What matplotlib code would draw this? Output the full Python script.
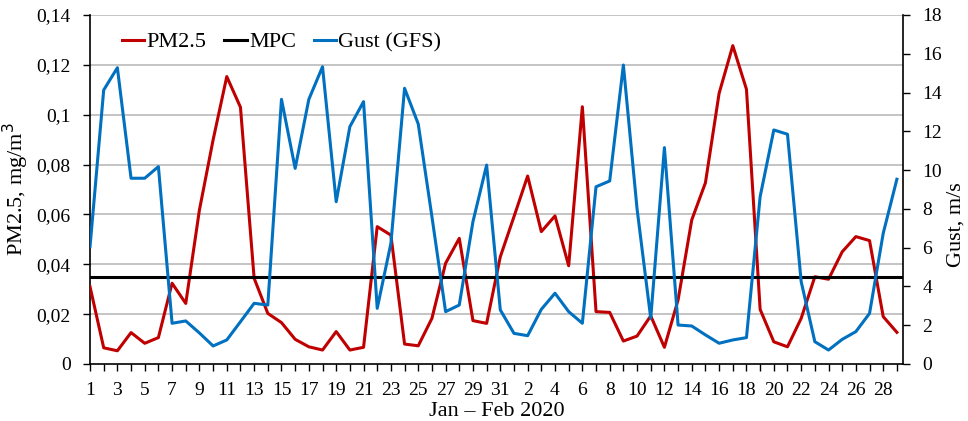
import matplotlib
matplotlib.use("Agg")
import matplotlib.pyplot as plt
from matplotlib.ticker import FixedLocator, FuncFormatter

plt.rcParams['font.family'] = ['Liberation Serif', 'DejaVu Serif']

days = list(range(1, 32)) + list(range(1, 30))

pm25 = [0.031, 0.0065, 0.0053, 0.0126, 0.0083, 0.0106, 0.0324, 0.0243, 0.0618, 0.0899,
        0.1153, 0.103, 0.0344, 0.0203, 0.0166, 0.0099, 0.0069, 0.0056, 0.0130, 0.0056,
        0.0067, 0.0551, 0.0517, 0.0080, 0.0073, 0.0183, 0.0404, 0.0504, 0.0174, 0.0163,
        0.0430, 0.0591, 0.0754, 0.0531, 0.0594, 0.0394, 0.1032, 0.0210, 0.0207, 0.0092,
        0.0112, 0.0193, 0.0067, 0.0257, 0.0578, 0.0727, 0.1086, 0.1277, 0.1102, 0.0219,
        0.0089, 0.0069, 0.0183, 0.0350, 0.0340, 0.0450, 0.0511, 0.0495, 0.0190, 0.0127]

gust = [6.05, 14.13, 15.28, 9.58, 9.58, 10.18, 2.10, 2.22, 1.6, 0.93,
        1.24, 2.18, 3.13, 3.04, 13.65, 10.09, 13.65, 15.33, 8.37, 12.24,
        13.53, 2.87, 6.22, 14.22, 12.38, 7.6, 2.70, 3.04, 7.34, 10.26,
        2.79, 1.58, 1.46, 2.82, 3.65, 2.70, 2.10, 9.14, 9.44, 15.42,
        8.0, 2.36, 11.16, 2.01, 1.96, 1.50, 1.07, 1.24, 1.36, 8.63,
        12.07, 11.85, 4.25, 1.15, 0.72, 1.27, 1.67, 2.61, 6.74, 9.53]

mpc = 0.035

left_ticks = [0, 0.02, 0.04, 0.06, 0.08, 0.1, 0.12, 0.14]
right_ticks = [0, 2, 4, 6, 8, 10, 12, 14, 16, 18]

RED = '#C00000'
BLUE = '#0070C0'
FS = 14
LFS = 16

fig = plt.figure(figsize=(9.68, 4.21), dpi=100)
ax = fig.add_axes([0.093, 0.1354, 0.8399, 0.829])
ax2 = ax.twinx()

x = list(range(len(days)))

for t in left_ticks[1:]:
    ax.axhline(t, color='#BFBFBF', lw=1.3, zorder=0)

l1, = ax.plot(x, pm25, color=RED, lw=2.2, label='PM2.5', zorder=3)
l2 = ax.axhline(mpc, color='black', lw=2.2, label='MPC', zorder=3)
l3, = ax2.plot(x, gust, color=BLUE, lw=2.2, label='Gust (GFS)', zorder=3)

ax.set_xlim(0, 59.45)
ax.set_ylim(0, 0.14)
ax2.set_ylim(0, 18)

ax.xaxis.set_major_locator(FixedLocator(x[::2]))
ax.xaxis.set_minor_locator(FixedLocator(x[1::2]))
ax.set_xticklabels([str(days[i]) for i in x[::2]])
ax.tick_params(axis='x', which='both', direction='out', length=5, width=1, labelsize=FS, pad=8)

ax.yaxis.set_major_locator(FixedLocator(left_ticks))
ax.yaxis.set_major_formatter(FuncFormatter(lambda v, p: ('%g' % round(v, 2)).replace('.', ',')))
ax.tick_params(axis='y', direction='out', length=5, width=1, labelsize=FS, pad=9)
ax2.yaxis.set_major_locator(FixedLocator(right_ticks))
ax2.tick_params(axis='y', direction='out', length=5, width=1, labelsize=FS, pad=9)

for a in (ax, ax2):
    a.spines['top'].set_visible(False)
    for s in ('left', 'right', 'bottom'):
        a.spines[s].set_linewidth(1.2)
ax.spines['right'].set_visible(False)
ax2.spines['left'].set_visible(False)
ax2.spines['bottom'].set_visible(False)

ax.set_xlabel('Jan – Feb 2020', fontsize=LFS, labelpad=2)
ax.set_ylabel('PM2.5, mg/m$^3$', fontsize=LFS)
ax.yaxis.set_label_coords(-0.073, 0.5)
ax2.set_ylabel('Gust, m/s', fontsize=LFS)
ax2.yaxis.set_label_coords(1.054, 0.40)

leg = ax.legend(handles=[l1, l2, l3], loc='upper left', bbox_to_anchor=(0.015, 1.009),
                ncol=3, frameon=False, fontsize=LFS, handlelength=1.0, handletextpad=0.1,
                columnspacing=0.8)

fig.savefig('out.png', dpi=100)
